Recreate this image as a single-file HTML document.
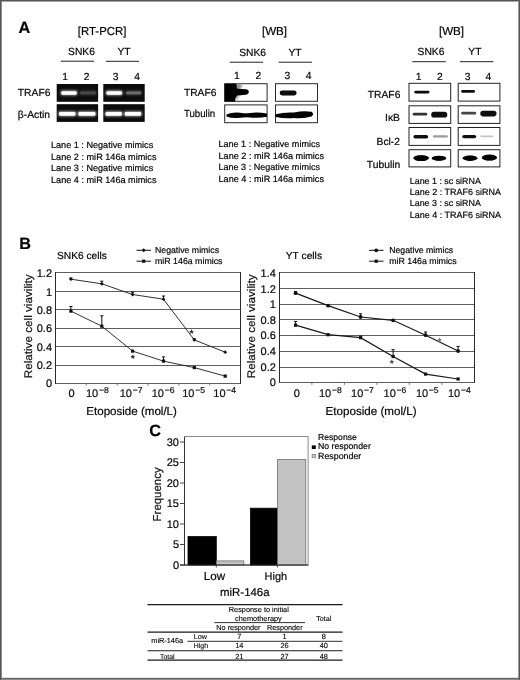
<!DOCTYPE html>
<html lang="en"><head><meta charset="utf-8"><title>Figure</title>
<style>
html,body{margin:0;padding:0;background:#fff;}
body{width:520px;height:680px;overflow:hidden;}
svg{display:block;font-family:"Liberation Sans", sans-serif;text-rendering:geometricPrecision;}
text{stroke:#111;stroke-width:0.2px;}
text.ns{stroke:none;}
#table text{stroke-width:0.12px;}
</style></head><body>
<svg width="520" height="680" viewBox="0 0 520 680">
<defs>
<filter id="b1" x="-20%" y="-50%" width="140%" height="200%"><feGaussianBlur stdDeviation="0.7"/></filter>
<filter id="b2" x="-20%" y="-50%" width="140%" height="200%"><feGaussianBlur stdDeviation="1.1"/></filter>
<filter id="b0" x="-20%" y="-50%" width="140%" height="200%"><feGaussianBlur stdDeviation="0.45"/></filter>
</defs>
<rect x="0" y="0" width="520" height="680" fill="#fff"/>

<g id="frame">
<rect x="0" y="1" width="520" height="1" fill="#a4a4a4"/>
<rect x="0" y="677" width="520" height="1" fill="#e2e2e2"/>
<rect x="1" y="0" width="1" height="680" fill="#8e8e8e"/>
<rect x="518" y="0" width="1" height="680" fill="#9c9c9c"/>
<rect x="0" y="678" width="520" height="1" fill="#666"/>
<rect x="0" y="679" width="520" height="1" fill="#8a8a8a"/>
<rect x="0" y="0" width="520" height="1" fill="#555"/>
<rect x="0" y="0" width="1" height="680" fill="#555"/>
<rect x="519" y="0" width="1" height="680" fill="#555"/>
</g>
<g id="panelA">
<text x="18.6" y="32.6" font-size="16.3" text-anchor="start" font-weight="bold" fill="#000">A</text>
<text x="102.1" y="35.2" font-size="11.6" text-anchor="middle" textLength="48.5" lengthAdjust="spacingAndGlyphs">[RT-PCR]</text>
<text x="81.5" y="55.4" font-size="10.3" text-anchor="middle">SNK6</text>
<line x1="60.8" y1="61.2" x2="94" y2="61.2" stroke="#222" stroke-width="1"/>
<text x="124" y="55.4" font-size="10.3" text-anchor="middle">YT</text>
<line x1="106" y1="61.3" x2="139" y2="61.3" stroke="#222" stroke-width="1"/>
<text x="65" y="79.8" font-size="10.3" text-anchor="middle">1</text>
<text x="86.5" y="79.8" font-size="10.3" text-anchor="middle">2</text>
<text x="115.5" y="79.8" font-size="10.3" text-anchor="middle">3</text>
<text x="137" y="79.8" font-size="10.3" text-anchor="middle">4</text>
<text x="17.8" y="96.1" font-size="10.3" text-anchor="start">TRAF6</text>
<text x="17.8" y="118.3" font-size="10.3" text-anchor="start">β-Actin</text>
<rect x="56.7" y="84" width="41.4" height="17.8" fill="#0c0c0c"/>
<rect x="56.7" y="104.2" width="41.4" height="17.7" fill="#0c0c0c"/>
<rect x="103.3" y="84" width="41.4" height="17.8" fill="#0c0c0c"/>
<rect x="103.3" y="104.2" width="41.4" height="17.7" fill="#0c0c0c"/>
<rect x="60.4" y="90.2" width="17.2" height="5.3" rx="2" fill="#9a9a9a" filter="url(#b2)"/>
<rect x="61.4" y="91.2" width="15.2" height="3.5" rx="1.3" fill="#ffffff" filter="url(#b0)"/>
<rect x="79.0" y="90.6" width="17.9" height="4.6" rx="2" fill="#303030" filter="url(#b2)"/>
<rect x="80.0" y="91.5" width="15.9" height="2.8" rx="1.3" fill="#484848" filter="url(#b0)"/>
<rect x="105.5" y="90.2" width="17.4" height="5.3" rx="2" fill="#9a9a9a" filter="url(#b2)"/>
<rect x="106.5" y="91.2" width="15.4" height="3.5" rx="1.3" fill="#ffffff" filter="url(#b0)"/>
<rect x="125.2" y="90.6" width="16.9" height="4.6" rx="2" fill="#404040" filter="url(#b2)"/>
<rect x="126.2" y="91.5" width="14.9" height="2.8" rx="1.3" fill="#6c6c6c" filter="url(#b0)"/>
<rect x="58.1" y="111.0" width="18.3" height="5.5" rx="2" fill="#a0a0a0" filter="url(#b2)"/>
<rect x="59.1" y="112.0" width="16.3" height="3.7" rx="1.3" fill="#ffffff" filter="url(#b0)"/>
<rect x="77.5" y="111.0" width="18.9" height="5.5" rx="2" fill="#a0a0a0" filter="url(#b2)"/>
<rect x="78.5" y="112.0" width="16.9" height="3.7" rx="1.3" fill="#ffffff" filter="url(#b0)"/>
<rect x="104.6" y="111.0" width="18.2" height="5.5" rx="2" fill="#a0a0a0" filter="url(#b2)"/>
<rect x="105.6" y="112.0" width="16.2" height="3.7" rx="1.3" fill="#ffffff" filter="url(#b0)"/>
<rect x="123.8" y="111.0" width="18.3" height="5.5" rx="2" fill="#a0a0a0" filter="url(#b2)"/>
<rect x="124.8" y="112.0" width="16.3" height="3.7" rx="1.3" fill="#ffffff" filter="url(#b0)"/>
<text x="51" y="148.1" font-size="9.1" text-anchor="start" textLength="102.2" lengthAdjust="spacingAndGlyphs">Lane 1 : Negative mimics</text>
<text x="51" y="159.6" font-size="9.13" text-anchor="start" textLength="105.5" lengthAdjust="spacingAndGlyphs">Lane 2 : miR 146a mimics</text>
<text x="51" y="171.1" font-size="9.1" text-anchor="start" textLength="102.2" lengthAdjust="spacingAndGlyphs">Lane 3 : Negative mimics</text>
<text x="51" y="182.6" font-size="9.13" text-anchor="start" textLength="105.5" lengthAdjust="spacingAndGlyphs">Lane 4 : miR 146a mimics</text>
<text x="274.5" y="35.2" font-size="11.6" text-anchor="middle">[WB]</text>
<text x="252.6" y="55.8" font-size="10.3" text-anchor="middle">SNK6</text>
<line x1="229.8" y1="62.2" x2="263" y2="62.2" stroke="#222" stroke-width="1"/>
<text x="295" y="55.8" font-size="10.3" text-anchor="middle">YT</text>
<line x1="278.6" y1="62.2" x2="312" y2="62.2" stroke="#222" stroke-width="1"/>
<text x="236.8" y="79.1" font-size="10.3" text-anchor="middle">1</text>
<text x="258.4" y="79.1" font-size="10.3" text-anchor="middle">2</text>
<text x="287.4" y="79.1" font-size="10.3" text-anchor="middle">3</text>
<text x="308.5" y="79.1" font-size="10.3" text-anchor="middle">4</text>
<text x="183.9" y="96" font-size="10.3" text-anchor="start">TRAF6</text>
<text x="183.9" y="116.8" font-size="10.3" text-anchor="start" textLength="31.3" lengthAdjust="spacingAndGlyphs">Tubulin</text>
<rect x="224.7" y="83.7" width="42.4" height="17.6" fill="#fff" stroke="#2a2a2a" stroke-width="1"/>
<rect x="224.7" y="104.9" width="42.4" height="17.8" fill="#fff" stroke="#2a2a2a" stroke-width="1"/>
<rect x="275.5" y="83.7" width="42" height="17.6" fill="#fff" stroke="#2a2a2a" stroke-width="1"/>
<rect x="275.5" y="104.9" width="42" height="17.8" fill="#fff" stroke="#2a2a2a" stroke-width="1"/>
<g filter="url(#b2)"><path d="M235,84 L242,84 L241,88.6 L236,89 Z" fill="#8a8a8a"/><path d="M236,95 L240,95.6 L235,101 L233,101 Z" fill="#9a9a9a"/></g>
<g filter="url(#b1)"><rect x="224.6" y="83.8" width="10.6" height="17.8" fill="#000"/><path d="M235,83.8 L236.6,84 Q236.4,87 237.2,88.4 Q241,89 246,89.2 Q249,89.6 248.8,92 Q248.6,94.4 245.6,94.7 Q240,95 237.4,95.6 Q234.8,98 233.2,101.6 L232,101.6 L232,83.8 Z" fill="#000"/></g>
<rect x="279.7" y="90.6" width="16.9" height="4.9" rx="2.5" fill="#0a0a0a" filter="url(#b1)"/>
<g filter="url(#b1)"><path d="M226.5,114.6 Q232,111.9 240,112.7 Q246,113.7 250,113 Q258,111.7 267,113.6 L267,116.8 Q258,118.4 250,117.4 Q246,116.9 240,117.7 Q232,118.5 226.5,116.4 Z" fill="#000"/><path d="M275.8,114.3 Q284,111.9 294,112.5 Q304,110.2 311.5,111.8 Q314.8,114 311.5,116.6 Q304,118.7 294,118 Q284,118.7 275.8,117 Z" fill="#000"/></g>
<text x="218.5" y="147.3" font-size="9.04" text-anchor="start" textLength="101.5" lengthAdjust="spacingAndGlyphs">Lane 1 : Negative mimics</text>
<text x="218.5" y="158.9" font-size="9.13" text-anchor="start" textLength="105.5" lengthAdjust="spacingAndGlyphs">Lane 2 : miR 146a mimics</text>
<text x="218.5" y="170.4" font-size="9.04" text-anchor="start" textLength="101.5" lengthAdjust="spacingAndGlyphs">Lane 3 : Negative mimics</text>
<text x="218.5" y="182.0" font-size="9.13" text-anchor="start" textLength="105.5" lengthAdjust="spacingAndGlyphs">Lane 4 : miR 146a mimics</text>
<text x="451.5" y="35.2" font-size="11.6" text-anchor="middle">[WB]</text>
<text x="431" y="55.4" font-size="10.3" text-anchor="middle">SNK6</text>
<line x1="412.3" y1="61.7" x2="445.8" y2="61.7" stroke="#222" stroke-width="1"/>
<text x="474.9" y="55.4" font-size="10.3" text-anchor="middle">YT</text>
<line x1="460" y1="61.7" x2="493.3" y2="61.7" stroke="#222" stroke-width="1"/>
<text x="418.6" y="79.7" font-size="10.3" text-anchor="middle">1</text>
<text x="439.9" y="79.7" font-size="10.3" text-anchor="middle">2</text>
<text x="467.7" y="79.7" font-size="10.3" text-anchor="middle">3</text>
<text x="488.3" y="79.7" font-size="10.3" text-anchor="middle">4</text>
<text x="400.4" y="97.8" font-size="10.3" text-anchor="end">TRAF6</text>
<text x="400" y="120.5" font-size="10.3" text-anchor="end">IκB</text>
<text x="400" y="145.4" font-size="10.3" text-anchor="end">Bcl-2</text>
<text x="400.2" y="168.2" font-size="10.3" text-anchor="end">Tubulin</text>
<rect x="409.0" y="83.3" width="41.7" height="17.799999999999997" fill="#fff" stroke="#222" stroke-width="1"/>
<rect x="409.0" y="105.8" width="41.7" height="17.60000000000001" fill="#fff" stroke="#222" stroke-width="1"/>
<rect x="409.0" y="127.5" width="41.7" height="17.900000000000006" fill="#fff" stroke="#222" stroke-width="1"/>
<rect x="409.0" y="149.7" width="41.7" height="17.200000000000017" fill="#fff" stroke="#222" stroke-width="1"/>
<rect x="458.2" y="83.3" width="41.7" height="17.799999999999997" fill="#fff" stroke="#222" stroke-width="1"/>
<rect x="458.2" y="105.8" width="41.7" height="17.60000000000001" fill="#fff" stroke="#222" stroke-width="1"/>
<rect x="458.2" y="127.5" width="41.7" height="17.900000000000006" fill="#fff" stroke="#222" stroke-width="1"/>
<rect x="458.2" y="149.7" width="41.7" height="17.200000000000017" fill="#fff" stroke="#222" stroke-width="1"/>
<rect x="414.3" y="90.7" width="15.2" height="2.7" rx="1.4" fill="#0a0a0a" filter="url(#b0)"/>
<rect x="461.2" y="90.1" width="13.8" height="2.7" rx="1.4" fill="#0a0a0a" filter="url(#b0)"/>
<rect x="412.7" y="112.8" width="14.5" height="2.7" rx="1.4" fill="#333" filter="url(#b0)"/>
<rect x="431.2" y="111.8" width="16.1" height="5.8" rx="2.9" fill="#0a0a0a" filter="url(#b1)"/>
<rect x="461.2" y="111.8" width="15.0" height="2.7" rx="1.4" fill="#444" filter="url(#b0)"/>
<rect x="480.3" y="110.8" width="16.2" height="5.6" rx="2.8" fill="#0a0a0a" filter="url(#b1)"/>
<rect x="413.4" y="134.9" width="14.8" height="3.6" rx="1.8" fill="#111" filter="url(#b0)"/>
<rect x="433.0" y="135.2" width="14.8" height="2.4" rx="1.2" fill="#9a9a9a" filter="url(#b0)"/>
<rect x="462.3" y="134.9" width="13.9" height="3.4" rx="1.7" fill="#111" filter="url(#b0)"/>
<rect x="480.3" y="135.4" width="13.2" height="1.8" rx="0.9" fill="#c4c4c4" filter="url(#b0)"/>
<ellipse cx="421.1" cy="158.1" rx="7.9" ry="2.9" fill="#000" filter="url(#b0)"/>
<rect x="415.7" y="155.5" width="10.8" height="5.2" rx="2.4" fill="#000" filter="url(#b0)"/>
<ellipse cx="439.0" cy="158.2" rx="7.4" ry="2.5" fill="#000" filter="url(#b0)"/>
<rect x="434.1" y="156.0" width="9.8" height="4.4" rx="2.4" fill="#000" filter="url(#b0)"/>
<ellipse cx="470.1" cy="158.2" rx="7.4" ry="2.7" fill="#000" filter="url(#b0)"/>
<rect x="465.1" y="155.8" width="9.9" height="4.7" rx="2.4" fill="#000" filter="url(#b0)"/>
<ellipse cx="489.4" cy="157.6" rx="7.7" ry="3.0" fill="#000" filter="url(#b0)"/>
<rect x="484.2" y="155.0" width="10.4" height="5.3" rx="2.4" fill="#000" filter="url(#b0)"/>
<text x="409.8" y="183.5" font-size="8.87" text-anchor="start" textLength="71" lengthAdjust="spacingAndGlyphs">Lane 1 : sc siRNA</text>
<text x="409.8" y="194.9" font-size="8.98" text-anchor="start" textLength="91.2" lengthAdjust="spacingAndGlyphs">Lane 2 : TRAF6 siRNA</text>
<text x="409.8" y="206.3" font-size="8.87" text-anchor="start" textLength="71" lengthAdjust="spacingAndGlyphs">Lane 3 : sc siRNA</text>
<text x="409.8" y="217.7" font-size="8.98" text-anchor="start" textLength="91.2" lengthAdjust="spacingAndGlyphs">Lane 4 : TRAF6 siRNA</text>
</g>
<g id="panelB">
<text x="19.2" y="248.5" font-size="16.3" text-anchor="start" font-weight="bold" fill="#000">B</text>
<line x1="55.5" y1="383.5" x2="240.6" y2="383.5" stroke="#5e5e5e" stroke-width="1"/>
<text x="52" y="387.3" font-size="11" text-anchor="end">0</text>
<line x1="55.5" y1="365.5" x2="240.6" y2="365.5" stroke="#5e5e5e" stroke-width="1"/>
<text x="52" y="369.0" font-size="11" text-anchor="end">0.2</text>
<line x1="55.5" y1="346.5" x2="240.6" y2="346.5" stroke="#5e5e5e" stroke-width="1"/>
<text x="52" y="350.6" font-size="11" text-anchor="end">0.4</text>
<line x1="55.5" y1="328.5" x2="240.6" y2="328.5" stroke="#5e5e5e" stroke-width="1"/>
<text x="52" y="332.3" font-size="11" text-anchor="end">0.6</text>
<line x1="55.5" y1="309.5" x2="240.6" y2="309.5" stroke="#5e5e5e" stroke-width="1"/>
<text x="52" y="314.0" font-size="11" text-anchor="end">0.8</text>
<line x1="55.5" y1="291.5" x2="240.6" y2="291.5" stroke="#5e5e5e" stroke-width="1"/>
<text x="52" y="295.7" font-size="11" text-anchor="end">1</text>
<line x1="55.5" y1="272.5" x2="240.6" y2="272.5" stroke="#5e5e5e" stroke-width="1"/>
<text x="52" y="277.3" font-size="11" text-anchor="end">1.2</text>
<line x1="55.5" y1="272" x2="55.5" y2="384" stroke="#2a2a2a" stroke-width="1"/>
<line x1="240.5" y1="272" x2="240.5" y2="384" stroke="#2a2a2a" stroke-width="1"/>
<line x1="86.3" y1="383.6" x2="86.3" y2="385.6" stroke="#555" stroke-width="0.8"/>
<line x1="117.2" y1="383.6" x2="117.2" y2="385.6" stroke="#555" stroke-width="0.8"/>
<line x1="148.1" y1="383.6" x2="148.1" y2="385.6" stroke="#555" stroke-width="0.8"/>
<line x1="178.9" y1="383.6" x2="178.9" y2="385.6" stroke="#555" stroke-width="0.8"/>
<line x1="209.8" y1="383.6" x2="209.8" y2="385.6" stroke="#555" stroke-width="0.8"/>
<text x="71.5" y="396.6" font-size="11" text-anchor="middle">0</text>
<text x="86.0" y="396.6" font-size="11" fill="#111">10<tspan font-size="8.6" dx="0.7" dy="-3.9">−8</tspan></text>
<text x="119.7" y="396.6" font-size="11" fill="#111">10<tspan font-size="8.6" dx="0.7" dy="-3.9">−7</tspan></text>
<text x="151.7" y="396.6" font-size="11" fill="#111">10<tspan font-size="8.6" dx="0.7" dy="-3.9">−6</tspan></text>
<text x="182.2" y="396.6" font-size="11" fill="#111">10<tspan font-size="8.6" dx="0.7" dy="-3.9">−5</tspan></text>
<text x="213.3" y="396.6" font-size="11" fill="#111">10<tspan font-size="8.6" dx="0.7" dy="-3.9">−4</tspan></text>
<polyline points="70.9,279.2 101.8,283.8 132.6,294.5 163.5,299.2 194.3,339.9 225.2,352.2" fill="none" stroke="#1a1a1a" stroke-width="0.9"/>
<path d="M70.9,277.3 L72.8,279.2 L70.9,281.1 L69.0,279.2Z" fill="#111"/>
<path d="M101.8,281.9 L103.7,283.8 L101.8,285.7 L99.9,283.8Z" fill="#111"/>
<path d="M132.6,292.6 L134.5,294.5 L132.6,296.4 L130.7,294.5Z" fill="#111"/>
<path d="M163.5,297.3 L165.4,299.2 L163.5,301.1 L161.6,299.2Z" fill="#111"/>
<path d="M194.3,338.0 L196.2,339.9 L194.3,341.8 L192.4,339.9Z" fill="#111"/>
<path d="M225.2,350.3 L227.1,352.2 L225.2,354.1 L223.3,352.2Z" fill="#111"/>
<polyline points="70.9,311.1 101.8,326.2 132.6,351.1 163.5,361.1 194.3,367.6 225.2,376.1" fill="none" stroke="#1a1a1a" stroke-width="0.9"/>
<rect x="69.3" y="309.5" width="3.2" height="3.2" fill="#111"/>
<rect x="100.2" y="324.6" width="3.2" height="3.2" fill="#111"/>
<rect x="131.0" y="349.5" width="3.2" height="3.2" fill="#111"/>
<rect x="161.9" y="359.5" width="3.2" height="3.2" fill="#111"/>
<rect x="192.7" y="366.0" width="3.2" height="3.2" fill="#111"/>
<rect x="223.6" y="374.5" width="3.2" height="3.2" fill="#111"/>
<line x1="101.8" y1="283.8" x2="101.8" y2="281.2" stroke="#111" stroke-width="1"/>
<line x1="100.2" y1="281.2" x2="103.4" y2="281.2" stroke="#111" stroke-width="1"/>
<line x1="132.6" y1="294.5" x2="132.6" y2="292.3" stroke="#111" stroke-width="1"/>
<line x1="131.0" y1="292.3" x2="134.2" y2="292.3" stroke="#111" stroke-width="1"/>
<line x1="163.5" y1="299.2" x2="163.5" y2="296.0" stroke="#111" stroke-width="1"/>
<line x1="161.9" y1="296.0" x2="165.1" y2="296.0" stroke="#111" stroke-width="1"/>
<line x1="70.9" y1="311.1" x2="70.9" y2="306.5" stroke="#111" stroke-width="1"/>
<line x1="69.3" y1="306.5" x2="72.5" y2="306.5" stroke="#111" stroke-width="1"/>
<line x1="101.8" y1="326.2" x2="101.8" y2="315.8" stroke="#111" stroke-width="1"/>
<line x1="100.2" y1="315.8" x2="103.4" y2="315.8" stroke="#111" stroke-width="1"/>
<line x1="163.5" y1="361.1" x2="163.5" y2="356.9" stroke="#111" stroke-width="1"/>
<line x1="161.9" y1="356.9" x2="165.1" y2="356.9" stroke="#111" stroke-width="1"/>
<line x1="70.9" y1="279.2" x2="70.9" y2="278.0" stroke="#111" stroke-width="1"/>
<line x1="69.3" y1="278.0" x2="72.5" y2="278.0" stroke="#111" stroke-width="1"/>
<line x1="194.3" y1="339.9" x2="194.3" y2="338.7" stroke="#111" stroke-width="1"/>
<line x1="192.7" y1="338.7" x2="195.9" y2="338.7" stroke="#111" stroke-width="1"/>
<text x="132.7" y="362.4" font-size="10.5" text-anchor="middle" font-weight="bold" fill="#222" class="ns">*</text>
<text x="191.5" y="337.4" font-size="10.5" text-anchor="middle" font-weight="bold" fill="#222" class="ns">*</text>
<text x="57" y="258.8" font-size="10.2" text-anchor="start" textLength="49.8" lengthAdjust="spacingAndGlyphs">SNK6 cells</text>
<text transform="translate(31.7,378.3) rotate(-90)" font-size="11.07" fill="#111" textLength="104" lengthAdjust="spacingAndGlyphs">Relative cell viavility</text>
<text x="86.3" y="414.6" font-size="11.56" text-anchor="start" textLength="90.6" lengthAdjust="spacingAndGlyphs">Etoposide (mol/L)</text>
<line x1="136.5" y1="250.3" x2="151.0" y2="250.3" stroke="#111" stroke-width="1"/>
<path d="M143.7,248.3 L145.7,250.3 L143.7,252.3 L141.7,250.3Z" fill="#111"/>
<text x="155" y="252.9" font-size="8.73" text-anchor="start" textLength="64" lengthAdjust="spacingAndGlyphs">Negative mimics</text>
<line x1="136.5" y1="261.2" x2="151.0" y2="261.2" stroke="#111" stroke-width="1"/>
<rect x="142.1" y="259.59999999999997" width="3.2" height="3.2" fill="#111"/>
<text x="155" y="263.8" font-size="8.8" text-anchor="start" textLength="67.5" lengthAdjust="spacingAndGlyphs">miR 146a mimics</text>
<line x1="279.4" y1="382.5" x2="474.3" y2="382.5" stroke="#5e5e5e" stroke-width="1"/>
<text x="275.9" y="386.3" font-size="11" text-anchor="end">0</text>
<line x1="279.4" y1="367.5" x2="474.3" y2="367.5" stroke="#5e5e5e" stroke-width="1"/>
<text x="275.9" y="370.7" font-size="11" text-anchor="end">0.2</text>
<line x1="279.4" y1="351.5" x2="474.3" y2="351.5" stroke="#5e5e5e" stroke-width="1"/>
<text x="275.9" y="355.0" font-size="11" text-anchor="end">0.4</text>
<line x1="279.4" y1="335.5" x2="474.3" y2="335.5" stroke="#5e5e5e" stroke-width="1"/>
<text x="275.9" y="339.4" font-size="11" text-anchor="end">0.6</text>
<line x1="279.4" y1="319.5" x2="474.3" y2="319.5" stroke="#5e5e5e" stroke-width="1"/>
<text x="275.9" y="323.7" font-size="11" text-anchor="end">0.8</text>
<line x1="279.4" y1="304.5" x2="474.3" y2="304.5" stroke="#5e5e5e" stroke-width="1"/>
<text x="275.9" y="308.1" font-size="11" text-anchor="end">1</text>
<line x1="279.4" y1="288.5" x2="474.3" y2="288.5" stroke="#5e5e5e" stroke-width="1"/>
<text x="275.9" y="292.5" font-size="11" text-anchor="end">1.2</text>
<line x1="279.4" y1="272.5" x2="474.3" y2="272.5" stroke="#5e5e5e" stroke-width="1"/>
<text x="275.9" y="276.8" font-size="11" text-anchor="end">1.4</text>
<line x1="279.5" y1="272" x2="279.5" y2="383" stroke="#2a2a2a" stroke-width="1"/>
<line x1="474.5" y1="272" x2="474.5" y2="383" stroke="#2a2a2a" stroke-width="1"/>
<line x1="311.9" y1="382.8" x2="311.9" y2="384.8" stroke="#555" stroke-width="0.8"/>
<line x1="344.4" y1="382.8" x2="344.4" y2="384.8" stroke="#555" stroke-width="0.8"/>
<line x1="376.9" y1="382.8" x2="376.9" y2="384.8" stroke="#555" stroke-width="0.8"/>
<line x1="409.3" y1="382.8" x2="409.3" y2="384.8" stroke="#555" stroke-width="0.8"/>
<line x1="441.8" y1="382.8" x2="441.8" y2="384.8" stroke="#555" stroke-width="0.8"/>
<text x="296.8" y="396.6" font-size="11" text-anchor="middle">0</text>
<text x="319.0" y="396.6" font-size="11" fill="#111">10<tspan font-size="8.6" dx="0.7" dy="-3.9">−8</tspan></text>
<text x="351.1" y="396.6" font-size="11" fill="#111">10<tspan font-size="8.6" dx="0.7" dy="-3.9">−7</tspan></text>
<text x="383.6" y="396.6" font-size="11" fill="#111">10<tspan font-size="8.6" dx="0.7" dy="-3.9">−6</tspan></text>
<text x="415.9" y="396.6" font-size="11" fill="#111">10<tspan font-size="8.6" dx="0.7" dy="-3.9">−5</tspan></text>
<text x="448.0" y="396.6" font-size="11" fill="#111">10<tspan font-size="8.6" dx="0.7" dy="-3.9">−4</tspan></text>
<polyline points="295.6,293.2 328.1,305.7 360.6,317.0 393.1,320.3 425.6,335.2 458.1,351.0" fill="none" stroke="#1a1a1a" stroke-width="1.25"/>
<circle cx="295.6" cy="293.2" r="1.9" fill="#111"/>
<circle cx="328.1" cy="305.7" r="1.9" fill="#111"/>
<circle cx="360.6" cy="317.0" r="1.9" fill="#111"/>
<circle cx="393.1" cy="320.3" r="1.9" fill="#111"/>
<circle cx="425.6" cy="335.2" r="1.9" fill="#111"/>
<circle cx="458.1" cy="351.0" r="1.9" fill="#111"/>
<polyline points="295.6,325.2 328.1,334.7 360.6,337.7 393.1,356.5 425.6,374.1 458.1,379.0" fill="none" stroke="#1a1a1a" stroke-width="1.25"/>
<rect x="294.0" y="323.6" width="3.2" height="3.2" fill="#111"/>
<rect x="326.5" y="333.1" width="3.2" height="3.2" fill="#111"/>
<rect x="359.0" y="336.1" width="3.2" height="3.2" fill="#111"/>
<rect x="391.5" y="354.9" width="3.2" height="3.2" fill="#111"/>
<rect x="424.0" y="372.5" width="3.2" height="3.2" fill="#111"/>
<rect x="456.5" y="377.4" width="3.2" height="3.2" fill="#111"/>
<line x1="295.6" y1="293.2" x2="295.6" y2="291.6" stroke="#111" stroke-width="1"/>
<line x1="294.0" y1="291.6" x2="297.2" y2="291.6" stroke="#111" stroke-width="1"/>
<line x1="360.6" y1="317.0" x2="360.6" y2="313.8" stroke="#111" stroke-width="1"/>
<line x1="359.0" y1="313.8" x2="362.2" y2="313.8" stroke="#111" stroke-width="1"/>
<line x1="425.6" y1="335.2" x2="425.6" y2="332.0" stroke="#111" stroke-width="1"/>
<line x1="424.0" y1="332.0" x2="427.2" y2="332.0" stroke="#111" stroke-width="1"/>
<line x1="458.1" y1="351.0" x2="458.1" y2="346.4" stroke="#111" stroke-width="1"/>
<line x1="456.5" y1="346.4" x2="459.7" y2="346.4" stroke="#111" stroke-width="1"/>
<line x1="295.6" y1="325.2" x2="295.6" y2="321.4" stroke="#111" stroke-width="1"/>
<line x1="294.0" y1="321.4" x2="297.2" y2="321.4" stroke="#111" stroke-width="1"/>
<line x1="393.1" y1="356.5" x2="393.1" y2="349.7" stroke="#111" stroke-width="1"/>
<line x1="391.5" y1="349.7" x2="394.7" y2="349.7" stroke="#111" stroke-width="1"/>
<line x1="360.6" y1="337.7" x2="360.6" y2="336.1" stroke="#111" stroke-width="1"/>
<line x1="359.0" y1="336.1" x2="362.2" y2="336.1" stroke="#111" stroke-width="1"/>
<text x="439.5" y="345.4" font-size="10.5" text-anchor="middle" font-weight="bold" fill="#777" class="ns">*</text>
<text x="391.8" y="366.9" font-size="10.5" text-anchor="middle" font-weight="bold" fill="#444" class="ns">*</text>
<text x="285.8" y="258.8" font-size="10.2" text-anchor="start" textLength="36.2" lengthAdjust="spacingAndGlyphs">YT cells</text>
<text transform="translate(255,378.3) rotate(-90)" font-size="11.07" fill="#111" textLength="104" lengthAdjust="spacingAndGlyphs">Relative cell viavility</text>
<text x="325.6" y="414.6" font-size="11.6" text-anchor="start" textLength="90.9" lengthAdjust="spacingAndGlyphs">Etoposide (mol/L)</text>
<line x1="369" y1="250.3" x2="383.5" y2="250.3" stroke="#111" stroke-width="1"/>
<circle cx="376.2" cy="250.3" r="1.9" fill="#111"/>
<text x="389.2" y="252.9" font-size="8.73" text-anchor="start" textLength="64" lengthAdjust="spacingAndGlyphs">Negative mimics</text>
<line x1="369" y1="261.2" x2="383.5" y2="261.2" stroke="#111" stroke-width="1"/>
<rect x="374.59999999999997" y="259.59999999999997" width="3.2" height="3.2" fill="#111"/>
<text x="389.2" y="263.8" font-size="8.8" text-anchor="start" textLength="67.5" lengthAdjust="spacingAndGlyphs">miR 146a mimics</text>
</g>
<g id="panelC">
<text x="149.2" y="436.3" font-size="16.3" text-anchor="start" font-weight="bold" fill="#000">C</text>
<rect x="184.5" y="436.6" width="123.60000000000001" height="128.4" fill="none" stroke="#747474" stroke-width="0.85"/>
<line x1="180" y1="565.0" x2="184.5" y2="565.0" stroke="#333" stroke-width="0.9"/>
<text x="179" y="568.9" font-size="11" text-anchor="end">0</text>
<line x1="180" y1="544.5" x2="184.5" y2="544.5" stroke="#333" stroke-width="0.9"/>
<text x="179" y="548.4" font-size="11" text-anchor="end">5</text>
<line x1="180" y1="524.0" x2="184.5" y2="524.0" stroke="#333" stroke-width="0.9"/>
<text x="179" y="527.9" font-size="11" text-anchor="end">10</text>
<line x1="180" y1="503.5" x2="184.5" y2="503.5" stroke="#333" stroke-width="0.9"/>
<text x="179" y="507.4" font-size="11" text-anchor="end">15</text>
<line x1="180" y1="483.0" x2="184.5" y2="483.0" stroke="#333" stroke-width="0.9"/>
<text x="179" y="486.9" font-size="11" text-anchor="end">20</text>
<line x1="180" y1="462.5" x2="184.5" y2="462.5" stroke="#333" stroke-width="0.9"/>
<text x="179" y="466.4" font-size="11" text-anchor="end">25</text>
<line x1="180" y1="442.0" x2="184.5" y2="442.0" stroke="#333" stroke-width="0.9"/>
<text x="179" y="445.9" font-size="11" text-anchor="end">30</text>
<rect x="188" y="536.6" width="28.3" height="28.4" fill="#000" stroke="#000" stroke-width="0.8"/>
<rect x="216.3" y="560.9" width="27.5" height="4.1" fill="#c3c3c3" stroke="#6e6e6e" stroke-width="0.8"/>
<rect x="250.5" y="508.2" width="27.1" height="56.8" fill="#000" stroke="#000" stroke-width="0.8"/>
<rect x="277.6" y="459.4" width="28.2" height="105.6" fill="#c3c3c3" stroke="#6e6e6e" stroke-width="0.8"/>
<line x1="184.5" y1="437" x2="184.5" y2="565" stroke="#333" stroke-width="1"/>
<line x1="180" y1="565" x2="308.3" y2="565" stroke="#222" stroke-width="1"/>
<line x1="216.3" y1="565" x2="216.3" y2="567.5" stroke="#333" stroke-width="0.9"/>
<line x1="277.6" y1="565" x2="277.6" y2="567.5" stroke="#333" stroke-width="0.9"/>
<text x="214.4" y="579.5" font-size="11.61" text-anchor="middle" textLength="21.3" lengthAdjust="spacingAndGlyphs">Low</text>
<text x="275.8" y="579.5" font-size="10.94" text-anchor="middle" textLength="22.5" lengthAdjust="spacingAndGlyphs">High</text>
<text x="244.8" y="596.3" font-size="11.42" text-anchor="middle" textLength="49.5" lengthAdjust="spacingAndGlyphs">miR-146a</text>
<text transform="translate(160.6,521.4) rotate(-90)" font-size="11.45" fill="#111" textLength="54" lengthAdjust="spacingAndGlyphs">Frequency</text>
<text x="318" y="440" font-size="8.62" text-anchor="start" textLength="38.8" lengthAdjust="spacingAndGlyphs">Response</text>
<rect x="311.8" y="445.4" width="4" height="3.6" fill="#000"/>
<text x="318" y="449.3" font-size="8.71" text-anchor="start" textLength="52.8" lengthAdjust="spacingAndGlyphs">No responder</text>
<rect x="312.1" y="454.4" width="3.5" height="3.4" fill="#c8c8c8" stroke="#777" stroke-width="0.7"/>
<text x="318" y="458.7" font-size="8.85" text-anchor="start" textLength="43.3" lengthAdjust="spacingAndGlyphs">Responder</text>
</g>
<g id="table">
<line x1="147.5" y1="604.6" x2="342.5" y2="604.6" stroke="#1a1a1a" stroke-width="1.1"/>
<text x="258.8" y="611.8" font-size="7.34" text-anchor="middle" textLength="60" lengthAdjust="spacingAndGlyphs">Response to initial</text>
<text x="258.4" y="620.5" font-size="7.39" text-anchor="middle" textLength="46.8" lengthAdjust="spacingAndGlyphs">chemotherapy</text>
<line x1="214.3" y1="622.6" x2="305" y2="622.6" stroke="#1a1a1a" stroke-width="0.9"/>
<text x="238.4" y="629.5" font-size="7.31" text-anchor="middle" textLength="44.3" lengthAdjust="spacingAndGlyphs">No responder</text>
<text x="284.8" y="629.5" font-size="7.26" text-anchor="middle" textLength="35.5" lengthAdjust="spacingAndGlyphs">Responder</text>
<text x="323.8" y="620.5" font-size="7.1" text-anchor="middle" textLength="15" lengthAdjust="spacingAndGlyphs">Total</text>
<line x1="147.5" y1="632.1" x2="342.5" y2="632.1" stroke="#1a1a1a" stroke-width="1.1"/>
<text x="193.8" y="638.8" font-size="7.2" text-anchor="start" textLength="13.2" lengthAdjust="spacingAndGlyphs">Low</text>
<text x="193.8" y="648" font-size="6.9" text-anchor="start" textLength="14.2" lengthAdjust="spacingAndGlyphs">High</text>
<text x="151.3" y="643.3" font-size="7.34" text-anchor="start" textLength="31.8" lengthAdjust="spacingAndGlyphs">miR-146a</text>
<line x1="187.5" y1="641.3" x2="342.5" y2="641.3" stroke="#1a1a1a" stroke-width="0.9"/>
<line x1="147.5" y1="650.8" x2="342.5" y2="650.8" stroke="#1a1a1a" stroke-width="1.1"/>
<text x="160" y="658.8" font-size="6.86" text-anchor="start" textLength="14.5" lengthAdjust="spacingAndGlyphs">Total</text>
<line x1="147.5" y1="660.1" x2="342.5" y2="660.1" stroke="#1a1a1a" stroke-width="1.1"/>
<text x="239.3" y="638.8" font-size="7.4" text-anchor="middle">7</text>
<text x="284.5" y="638.8" font-size="7.4" text-anchor="middle">1</text>
<text x="323.8" y="638.8" font-size="7.4" text-anchor="middle">8</text>
<text x="239.3" y="648" font-size="7.4" text-anchor="middle">14</text>
<text x="284.5" y="648" font-size="7.4" text-anchor="middle">26</text>
<text x="323.8" y="648" font-size="7.4" text-anchor="middle">40</text>
<text x="239.3" y="658.8" font-size="7.4" text-anchor="middle">21</text>
<text x="284.5" y="658.8" font-size="7.4" text-anchor="middle">27</text>
<text x="323.8" y="658.8" font-size="7.4" text-anchor="middle">48</text>
</g>
</svg></body></html>
